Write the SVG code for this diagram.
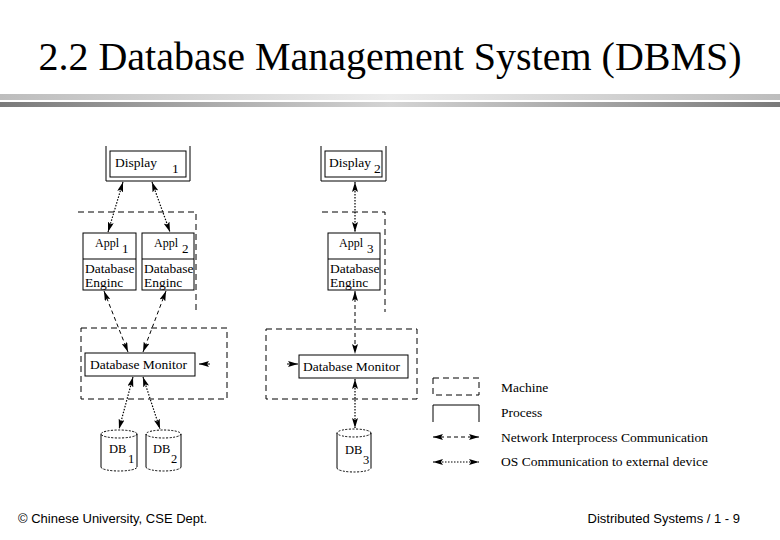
<svg xmlns="http://www.w3.org/2000/svg" width="780" height="540" viewBox="0 0 780 540">
<style>
.t{font-family:"Liberation Serif","Times New Roman",serif;fill:#000}
.f{font-family:"Liberation Sans",Arial,sans-serif;fill:#000;font-size:13px}
.box{fill:#fff;stroke:#000;stroke-width:1}
.mach{fill:none;stroke:#000;stroke-width:1;stroke-dasharray:6 4}
.net{fill:none;stroke:#000;stroke-width:1;stroke-dasharray:4 3}
.os{fill:none;stroke:#000;stroke-width:1.2;stroke-dasharray:1.5 1.5}
.cyl{fill:none;stroke:#000;stroke-width:1}
.rim{fill:none;stroke:#000;stroke-width:1;stroke-dasharray:2 1.5}
</style>
<defs>
<linearGradient id="g1" x1="0" x2="1" y1="0" y2="0"><stop offset="0" stop-color="#bdbdbd"/><stop offset="0.5" stop-color="#ececec"/><stop offset="1" stop-color="#bdbdbd"/></linearGradient>
<linearGradient id="g2" x1="0" x2="1" y1="0" y2="0"><stop offset="0" stop-color="#7a7a7a"/><stop offset="0.5" stop-color="#d4d4d4"/><stop offset="1" stop-color="#7a7a7a"/></linearGradient>
<marker id="ah" viewBox="0 0 10 6" refX="10" refY="3" markerWidth="10" markerHeight="6" markerUnits="userSpaceOnUse" orient="auto-start-reverse"><path d="M0,0 L10,3 L0,6 L2,3 z" fill="#000"/></marker>
</defs>
<rect width="780" height="540" fill="#fff"/>
<text class="t" x="390" y="70" font-size="40" text-anchor="middle">2.2 Database Management System (DBMS)</text>
<rect x="0" y="94" width="780" height="6" fill="url(#g1)"/>
<rect x="0" y="102" width="780" height="5" fill="url(#g2)"/>

<g id="machines">
<path class="mach" d="M78,212 H196 V312"/>
<path class="mach" d="M322,212 H385 V312"/>
<rect class="mach" x="81" y="328" width="146" height="71"/>
<rect class="mach" x="266" y="329" width="151" height="70"/>
</g>

<g id="display1">
<path class="cyl" d="M106,146 V181 H190 V146"/>
<rect class="box" x="110" y="151" width="76" height="26"/>
<text class="t" x="115" y="167" font-size="13.5">Display</text>
<text class="t" x="172" y="173" font-size="13.5">1</text>
</g>
<g id="display2">
<path class="cyl" d="M321,146 V181 H386 V146"/>
<rect class="box" x="325" y="151" width="57" height="26"/>
<text class="t" x="329" y="167" font-size="13.5">Display</text>
<text class="t" x="374" y="173" font-size="13.5">2</text>
</g>

<g id="appl1">
<rect class="box" x="83" y="233" width="53" height="57"/>
<line x1="83" y1="259" x2="136" y2="259" stroke="#000"/>
<text class="t" x="95" y="247" font-size="12">Appl</text>
<text class="t" x="122" y="253" font-size="13">1</text>
<text class="t" x="85" y="273" font-size="13.5">Database</text>
<text class="t" x="85" y="287" font-size="13.5">Enginc</text>
</g>
<g id="appl2">
<rect class="box" x="142" y="233" width="52" height="57"/>
<line x1="142" y1="259" x2="194" y2="259" stroke="#000"/>
<text class="t" x="154" y="247" font-size="12">Appl</text>
<text class="t" x="182" y="253" font-size="13">2</text>
<text class="t" x="144" y="273" font-size="13.5">Database</text>
<text class="t" x="144" y="287" font-size="13.5">Enginc</text>
</g>
<g id="appl3">
<rect class="box" x="328" y="233" width="52" height="57"/>
<line x1="328" y1="259" x2="380" y2="259" stroke="#000"/>
<text class="t" x="339" y="247" font-size="12">Appl</text>
<text class="t" x="367" y="253" font-size="13">3</text>
<text class="t" x="330" y="273" font-size="13.5">Database</text>
<text class="t" x="330" y="287" font-size="13.5">Enginc</text>
</g>

<g id="monitor1">
<rect class="box" x="85" y="353" width="110" height="23"/>
<text class="t" x="90" y="369" font-size="13.5">Database Monitor</text>
</g>
<g id="monitor2">
<rect class="box" x="299" y="355" width="109" height="23"/>
<text class="t" x="303" y="371" font-size="13.5">Database Monitor</text>
</g>

<g id="db1">
<path class="cyl" d="M101,434 V467 M137,434 V467"/>
<ellipse class="rim" cx="119" cy="434" rx="18" ry="4"/>
<path class="rim" d="M101,467 A18,4 0 0 0 137,467"/>
<text class="t" x="109" y="453" font-size="12.5">DB</text>
<text class="t" x="128" y="463" font-size="12.5">1</text>
</g>
<g id="db2">
<path class="cyl" d="M146,434 V467 M181,434 V467"/>
<ellipse class="rim" cx="163.5" cy="434" rx="17.5" ry="4"/>
<path class="rim" d="M146,467 A17.5,4 0 0 0 181,467"/>
<text class="t" x="153" y="453" font-size="12.5">DB</text>
<text class="t" x="171" y="463" font-size="12.5">2</text>
</g>
<g id="db3">
<path class="cyl" d="M337,433 V468 M371,433 V468"/>
<ellipse class="rim" cx="354" cy="433" rx="17" ry="4"/>
<path class="rim" d="M337,468 A17,4 0 0 0 371,468"/>
<text class="t" x="345" y="454" font-size="12.5">DB</text>
<text class="t" x="363" y="464" font-size="12.5">3</text>
</g>

<g id="connectors">
<path class="os" d="M123,182 L108,232" marker-start="url(#ah)" marker-end="url(#ah)"/>
<path class="os" d="M152,182 L170,232" marker-start="url(#ah)" marker-end="url(#ah)"/>
<path class="os" d="M355,182 L355,232" marker-start="url(#ah)" marker-end="url(#ah)"/>
<path class="net" d="M104,291 L128,352" marker-start="url(#ah)" marker-end="url(#ah)"/>
<path class="net" d="M166,291 L143,352" marker-start="url(#ah)" marker-end="url(#ah)"/>
<path class="net" d="M355,291 L355,354" marker-start="url(#ah)" marker-end="url(#ah)"/>
<path class="os" d="M133,377 L119,429" marker-start="url(#ah)" marker-end="url(#ah)"/>
<path class="os" d="M143,377 L160,429" marker-start="url(#ah)" marker-end="url(#ah)"/>
<path class="os" d="M355,379 L355,428" marker-start="url(#ah)" marker-end="url(#ah)"/>
<path d="M210,364 L199,364" stroke="#000" fill="none" marker-end="url(#ah)"/>
<path d="M287,364 L298,364" stroke="#000" fill="none" marker-end="url(#ah)"/>
</g>

<g id="legend">
<rect class="mach" x="433" y="378" width="46" height="17"/>
<path class="cyl" d="M433,422 V405 H479 V422"/>
<path class="net" d="M433,437 L479,437" marker-start="url(#ah)" marker-end="url(#ah)"/>
<path class="os" d="M433,462 L479,462" marker-start="url(#ah)" marker-end="url(#ah)"/>
<text class="t" x="501" y="392" font-size="13.5">Machine</text>
<text class="t" x="501" y="417" font-size="13.5">Process</text>
<text class="t" x="501" y="442" font-size="13.5">Network Interprocess Communication</text>
<text class="t" x="501" y="466" font-size="13.5">OS Communication to external device</text>
</g>

<text class="f" x="18" y="523">© Chinese University, CSE Dept.</text>
<text class="f" x="740" y="523" text-anchor="end">Distributed Systems / 1 - 9</text>
</svg>
